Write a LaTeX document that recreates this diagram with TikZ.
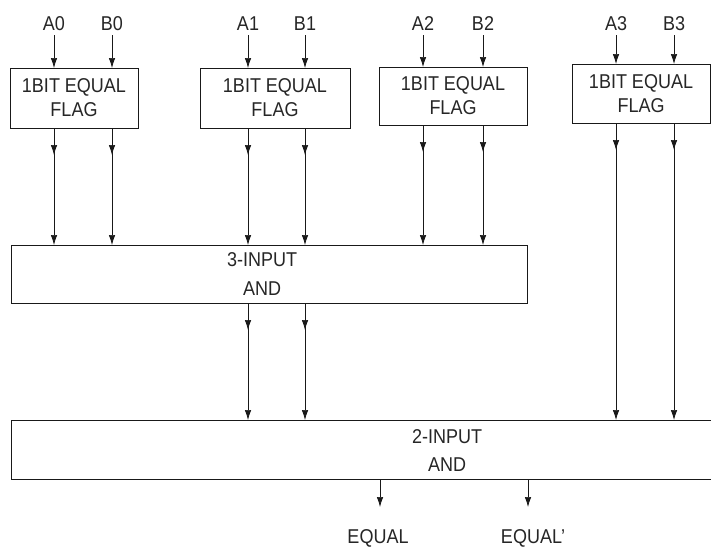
\documentclass[tikz,border=0pt]{standalone}
\usepackage{fontspec}
\setmainfont{Liberation Sans}[FakeStretch=0.9]
\usetikzlibrary{arrows.meta,decorations.markings}
\begin{document}
\begin{tikzpicture}[x=1pt,y=-1pt,
  lbl/.style={font=\fontsize{20}{24}\selectfont, text=black!85, inner sep=0pt},
  blk/.style={draw=black!90, line width=0.8pt, inner sep=0pt, outer sep=0pt,
              font=\fontsize{20}{24}\selectfont, text=black!85, align=center},
  sig/.style={draw=black!90, line width=0.7pt, -{Latex[length=10pt,width=6.5pt]}},
  sigm/.style={sig, postaction={decorate}, decoration={markings,
      mark=at position 27pt with {\arrow{Latex[length=10pt,width=6.5pt]}}}},
]
\useasboundingbox (0,0) rectangle (711,554);

% flag blocks
\node[blk, minimum width=128pt, minimum height=60pt] (f0) at (74,98) {1BIT EQUAL\\FLAG};
\node[blk, minimum width=150pt, minimum height=60pt] (f1) at (275,98) {1BIT EQUAL\\FLAG};
\node[blk, minimum width=148pt, minimum height=58pt] (f2) at (453,96) {1BIT EQUAL\\FLAG};
\node[blk, minimum width=138pt, minimum height=59pt] (f3) at (641,93.5) {1BIT EQUAL\\FLAG};

% AND blocks
\node[blk, minimum width=516pt, minimum height=58pt] (and3) at (269,274) {};
\node[lbl, align=center, font=\fontsize{20}{29}\selectfont] (t3) at (262,274.5) {3-INPUT\\AND};
\node[blk, draw=none, minimum width=700pt, minimum height=59pt] (and2) at (361,449.5) {};
\draw[black!90, line width=0.8pt] (and2.north east) -- (and2.north west) -- (and2.south west) -- (and2.south east);
\node[lbl, align=center, font=\fontsize{20}{28}\selectfont] (t2) at (447,451) {2-INPUT\\AND};

% input labels
\node[lbl] (a0) at (54,24) {A0};
\node[lbl] (b0) at (112,24) {B0};
\node[lbl] (a1) at (248,24) {A1};
\node[lbl] (b1) at (305,24) {B1};
\node[lbl] (a2) at (423,24) {A2};
\node[lbl] (b2) at (483,24) {B2};
\node[lbl] (a3) at (616,24) {A3};
\node[lbl] (b3) at (674,24) {B3};

\foreach \l/\f in {a0/f0,b0/f0,a1/f1,b1/f1,a2/f2,b2/f2,a3/f3,b3/f3}
  \draw[sig] ([yshift=-4pt]\l.south) -- (\l |- \f.north);

% flags to 3-input AND
\foreach \l/\f in {a0/f0,b0/f0,a1/f1,b1/f1,a2/f2,b2/f2}
  \draw[sigm] (\l |- \f.south) -- (\l |- and3.north);

% 3-input AND to 2-input AND
\foreach \l in {a1,b1}
  \draw[sigm] (\l |- and3.south) -- (\l |- and2.north);

% flag 3 to 2-input AND
\foreach \l in {a3,b3}
  \draw[sigm] (\l |- f3.south) -- (\l |- and2.north);

% outputs
\coordinate (e1) at (380,507);
\coordinate (e2) at (528,507);
\node[lbl] (eq1) at (378,538) {EQUAL};
\node[lbl] (eq2) at (533,538) {EQUAL'};
\draw[sig] (e1 |- and2.south) -- (e1);
\draw[sig] (e2 |- and2.south) -- (e2);
\end{tikzpicture}
\end{document}
